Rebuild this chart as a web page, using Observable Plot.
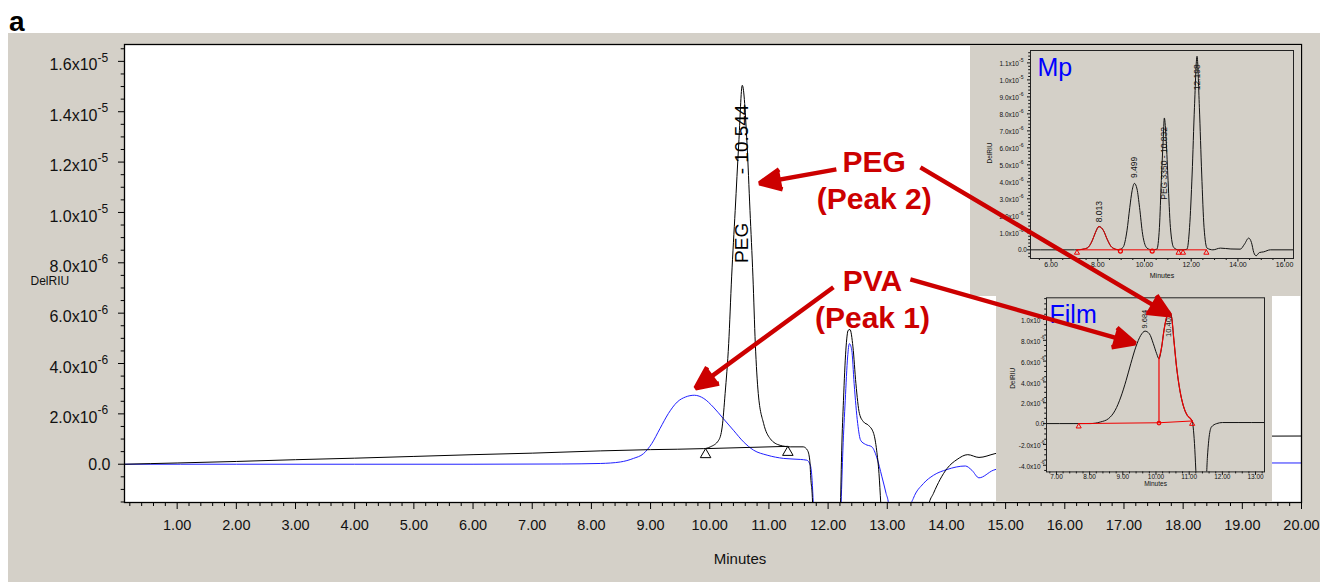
<!DOCTYPE html>
<html><head><meta charset="utf-8">
<script src="https://cdn.jsdelivr.net/npm/d3@7"></script>
<script src="https://cdn.jsdelivr.net/npm/@observablehq/plot@0.6"></script>
<style>
body{margin:0;background:#fff;font-family:"Liberation Sans",Arial,Helvetica,sans-serif;}
#fig{position:relative;width:1320px;height:582px;overflow:hidden;background:#fff;}
.abs{position:absolute;}
#lab{position:absolute;left:9px;top:8px;font-weight:bold;font-size:28px;line-height:1;}
svg{display:block;overflow:visible;}
</style></head><body>
<div id="fig">
 <div id="lab">a</div>
 <div class="abs" style="left:8px;top:33px;width:1312px;height:549px;background:#d4d0c8"></div>
 <div class="abs" id="main" style="left:8px;top:33px;"></div>
 <div class="abs" id="mp" style="left:970px;top:45px;width:331px;height:251px;background:#d4d0c8"></div>
 <div class="abs" id="film" style="left:996px;top:295px;width:276px;height:207px;background:#d4d0c8"></div>
 <div class="abs" id="over" style="left:8px;top:33px;"></div>
</div>
<script>
// ---------------- DATA (values in units of 1e-6 DelRIU, time in minutes) ----------------
const mainBlack = [[0.11,0],[1,0.05],[2,0.11],[3,0.18],[4,0.24],[5,0.31],[6,0.38],[7,0.44],[8.15,0.53],[9,0.58],[9.9,0.62],[10.01,0.69],[10.15,0.95],[10.21,1.48],[10.26,2.81],[10.32,4.79],[10.37,7.44],[10.43,10.08],[10.49,12.73],[10.55,15.05],[10.63,12.73],[10.68,10.08],[10.73,7.44],[10.77,4.79],[10.82,2.81],[10.91,1.62],[11.02,1.02],[11.19,0.75],[11.36,0.69],[11.58,0.69],[11.65,0.56],[11.69,0.16],[11.71,-0.64],[11.73,-1.15],[11.76,-3],[11.85,-6],[12.15,-6],[12.19,-3],[12.21,-1.56],[12.23,0.56],[12.26,2.54],[12.30,4.53],[12.34,5.32],[12.37,5.35],[12.42,4.66],[12.47,3.2],[12.53,2.01],[12.6,1.68],[12.68,1.55],[12.77,1.22],[12.82,0.56],[12.86,-0.37],[12.89,-1.56],[12.92,-3],[13.0,-6],[13.6,-6],[13.67,-3],[13.70,-1.63],[13.78,-1.16],[14.01,-0.17],[14.18,0.19],[14.36,0.38],[14.55,0.27],[14.82,0.42],[15.2,0.6],[16,0.85],[17,1.0],[18,1.08],[19,1.11],[20,1.12]];
const mainBlue = [[0.11,0],[2,0],[4,0],[6,0],[7.5,0.01],[8.15,0.03],[8.49,0.09],[8.71,0.23],[8.88,0.42],[9.02,0.82],[9.16,1.42],[9.30,2.01],[9.45,2.47],[9.59,2.67],[9.74,2.74],[9.90,2.61],[10.06,2.27],[10.23,1.81],[10.40,1.35],[10.57,0.89],[10.74,0.56],[10.97,0.36],[11.25,0.23],[11.53,0.19],[11.64,0.16],[11.70,-0.04],[11.73,-0.64],[11.75,-1.56],[11.78,-3],[11.9,-6],[12.15,-6],[12.2,-3],[12.22,-1.56],[12.25,0.56],[12.29,2.54],[12.33,4.26],[12.36,4.79],[12.40,4.53],[12.44,3.2],[12.50,1.62],[12.55,0.95],[12.63,0.79],[12.74,0.69],[12.82,0.29],[12.91,-0.5],[12.98,-1.16],[13.02,-1.56],[13.05,-3],[13.1,-6],[13.3,-6],[13.37,-3],[13.40,-1.63],[13.44,-1.36],[13.61,-0.77],[13.78,-0.44],[14.01,-0.21],[14.32,-0.07],[14.43,-0.24],[14.55,-0.54],[14.79,-0.24],[15.2,-0.05],[16,0.03],[17,0.05],[18,0.05],[19,0.05],[20,0.05]];
const mainBaseline = [[9.93,0.62],[11.32,0.71]];
const mainXTicks = [1,2,3,4,5,6,7,8,9,10,11,12,13,14,15,16,17,18,19,20];
const mainYTicks = [0,2,4,6,8,10,12,14,16];
const mainYMant = ["0.0","2.0x10","4.0x10","6.0x10","8.0x10","1.0x10","1.2x10","1.4x10","1.6x10"];
const mainYExp  = ["","-6","-6","-6","-6","-5","-5","-5","-5"];
const mainPeakText = [{t:"PEG", x:10.55, y:8.79},{t:"- 10.544", x:10.55, y:12.9}];

// Mp inset
const mpBlack = [[5.12,0],[6,0],[7,0],[7.11,0],[7.54,0.1],[7.76,0.53],[7.90,1.02],[8.05,1.37],[8.25,1.12],[8.40,0.63],[8.61,0.14],[8.9,0],[9.08,0.14],[9.25,1.12],[9.37,2.49],[9.47,3.48],[9.57,3.91],[9.68,3.58],[9.79,2.49],[9.92,0.92],[10.11,0.1],[10.32,0],[10.53,0.04],[10.64,1.32],[10.72,4.07],[10.80,6.42],[10.85,7.76],[10.93,6.42],[11.01,4.07],[11.11,1.32],[11.25,0.14],[11.45,0],[11.65,0],[11.82,0.04],[11.93,1.32],[12.04,4.46],[12.14,8.39],[12.25,11.39],[12.35,8.39],[12.45,4.46],[12.55,1.32],[12.68,0.1],[12.93,0],[13.25,0.1],[13.7,0.05],[14.1,0.04],[14.28,0.33],[14.46,0.69],[14.58,0.43],[14.68,-0.16],[14.78,-0.35],[14.92,-0.16],[15.1,-0.12],[15.39,0],[16.38,0]];
const mpRed = [[7.11,0],[7.54,0.1],[7.76,0.53],[7.90,1.02],[8.05,1.37],[8.25,1.12],[8.40,0.63],[8.61,0.14],[8.9,0]];
const mpRedBase = [[7.11,0],[12.65,0]];
const mpTriangles = [[7.11,0],[11.46,0],[11.65,0],[12.65,0]];
const mpCircles = [[8.97,0],[10.33,0]];
const mpPeakText = [{t:"8.013",x:8.05,y:2.25},{t:"9.499",x:9.57,y:4.85},{t:"PEG 3350 - 10.832",x:10.85,y:5.09},{t:"12.198",x:12.25,y:10.15}];
const mpXTicks = [6,8,10,12,14,16];
const mpYTicks = [0,1,2,3,4,5,6,7,8,9,10,11];
const mpYMant = ["0.0","1.0x10","2.0x10","3.0x10","4.0x10","5.0x10","6.0x10","7.0x10","8.0x10","9.0x10","1.0x10","1.1x10"];
const mpYExp  = ["","-6","-6","-6","-6","-6","-6","-6","-6","-6","-5","-5"];

// Film inset
const filmBlack = [[6.7,0],[7.5,0],[8.02,0],[8.32,0.15],[8.57,0.48],[8.77,1.28],[8.94,2.55],[9.1,4.15],[9.24,5.75],[9.39,7.34],[9.54,8.47],[9.67,8.88],[9.80,8.63],[9.92,7.67],[10.02,6.71],[10.09,6.23],[10.17,7.34],[10.24,8.95],[10.32,10.22],[10.39,10.8],[10.47,10.22],[10.54,7.99],[10.62,5.43],[10.72,3.19],[10.82,1.75],[10.94,0.8],[11.04,0.48],[11.09,0.25],[11.12,-0.33],[11.16,-1.92],[11.2,-4.48],[11.22,-6],[11.5,-6],[11.55,-3.2],[11.59,-1.6],[11.67,-0.33],[11.83,0],[12.0,0.1],[12.5,0.1],[13.27,0.1]];
const filmRed = [[10.09,6.23],[10.17,7.34],[10.24,8.95],[10.32,10.22],[10.39,10.8],[10.47,10.22],[10.54,7.99],[10.62,5.43],[10.72,3.19],[10.82,1.75],[10.94,0.8],[11.04,0.48],[11.09,0.25]];
const filmRedBase = [[7.67,0.0],[10.09,0.08],[11.09,0.25]];
const filmDrop = [[10.09,0.08],[10.09,6.23]];
const filmTriangles = [[7.67,0.0],[11.09,0.25]];
const filmCircles = [[10.09,0.05]];
const filmPeakText = [{t:"9.684",x:9.67,y:10.03},{t:"10.402",x:10.39,y:9.42}];
const filmXTicks = [7,8,9,10,11,12,13];
const filmYTicks = [-4,-2,0,2,4,6,8,10];
const filmYMant = ["-4.0x10","-2.0x10","0.0","2.0x10","4.0x10","6.0x10","8.0x10","1.0x10"];
const filmYExp  = ["-6","-6","","-6","-6","-6","-6","-5"];

// Annotations (main chart coordinates)
const annoText = [{t:"PEG",x:12.78,y:11.99},{t:"(Peak 2)",x:12.78,y:10.52},{t:"PVA",x:12.75,y:7.25},{t:"(Peak 1)",x:12.75,y:5.78}];
const annoArrows = [
  {x1:12.14,y1:11.71,x2:10.84,y2:11.16},
  {x1:12.09,y1:7.03,x2:9.76,y2:3.02},
  {x1:13.56,y1:11.79,x2:17.78,y2:5.92},
  {x1:13.39,y1:7.34,x2:17.19,y2:4.80}
];

// ---------------- RENDER ----------------
const FONT = '"Liberation Sans", Arial, Helvetica, sans-serif';
const X = d => d[0], Y = d => d[1];
function minor(a, b, step, majors) {
  return d3.range(Math.round(a/step), Math.round(b/step)+1).map(k => +(k*step).toFixed(3))
    .filter(v => !majors.some(m => Math.abs(m - v) < 1e-6));
}
function yLabelMarks(vals, mant, exps, o) {
  const rows = vals.map((v,i)=>({v, m:mant[i], e:exps[i]}));
  const withE = rows.filter(r=>r.e), noE = rows.filter(r=>!r.e);
  return [
    Plot.text(withE, {y:"v", text:"m", frameAnchor:"left", textAnchor:"end", dx:o.dxM, dy:o.dyM, fontSize:o.fs, fill:"#111"}),
    Plot.text(withE, {y:"v", text:"e", frameAnchor:"left", textAnchor:"start", dx:o.dxM, dy:o.dyE, fontSize:o.efs, fill:"#111"}),
    Plot.text(noE, {y:"v", text:"m", frameAnchor:"left", textAnchor:"end", dx:o.dxZ, dy:o.dyZ, fontSize:o.fs, fill:"#111"})
  ];
}
const blank = () => "";
const W = 1312, H = 549;
const M = {marginLeft:116, marginRight:19, marginTop:11, marginBottom:80};
const mainXDomain = [0.11, 20], mainYDomain = [-1.52, 16.67];

const mainPlot = Plot.plot({
  width: W, height: H, ...M,
  x: {domain: mainXDomain}, y: {domain: mainYDomain},
  style: {background: "transparent", fontFamily: FONT},
  marks: [
    Plot.frame({fill: "white", stroke: "none"}),
    Plot.line(mainBlue, {x: X, y: Y, stroke: "#2020ff", strokeWidth: 1, curve: "monotone-x", clip: true}),
    Plot.line(mainBlack, {x: X, y: Y, stroke: "#000", strokeWidth: 1, curve: "monotone-x", clip: true}),
    Plot.line(mainBaseline, {x: X, y: Y, stroke: "#000", strokeWidth: 1}),
    Plot.dot(mainBaseline, {x: X, y: Y, symbol: "triangle", r: 3.9, dy: 6, stroke: "#000", fill: "white", strokeWidth: 1}),
    Plot.text(mainPeakText, {x: "x", y: "y", text: "t", rotate: -90, fontSize: 19, fill: "#000"}),
    Plot.axisX({ticks: mainXTicks, tickSize: 7, tickFormat: blank, label: null, stroke: "#000"}),
    Plot.axisX({ticks: minor(0.2, 19.8, 0.2, mainXTicks), tickSize: 4, tickFormat: blank, label: null, stroke: "#000"}),
    Plot.axisY({ticks: mainYTicks, tickSize: 6, tickFormat: blank, label: null, stroke: "#000"}),
    Plot.axisY({ticks: minor(-1.5, 16.5, 0.5, mainYTicks), tickSize: 3.3, tickFormat: blank, label: null, stroke: "#000"}),
    Plot.text(mainXTicks, {x: d => d, frameAnchor: "bottom", dy: 27, text: d => d.toFixed(2), fontSize: 14.5, fill: "#111"}),
    ...yLabelMarks(mainYTicks, mainYMant, mainYExp, {dxM: -27, dyM: 4, dyE: -3.5, fs: 16, efs: 12, dxZ: -14, dyZ: 0.5}),
    Plot.text(["Minutes"], {frameAnchor: "bottom", dy: 61, dx: 27, fontSize: 15, fill: "#111"}),
    Plot.text(["DelRIU"], {frameAnchor: "left", dx: -94, dy: 8, fontSize: 12, fill: "#111"}),
    Plot.frame({stroke: "#000", strokeWidth: 1.3})
  ]
});
document.getElementById("main").appendChild(mainPlot);

// Mp inset
const mpPlot = Plot.plot({
  width: 331, height: 251, marginLeft: 60, marginRight: 8, marginTop: 5, marginBottom: 38,
  x: {domain: [5.12, 16.38]}, y: {domain: [-0.51, 11.73]},
  style: {background: "transparent", fontFamily: FONT},
  marks: [
    Plot.line(mpBlack, {x: X, y: Y, stroke: "#111", strokeWidth: 1, curve: "monotone-x", clip: true}),
    Plot.line(mpRedBase, {x: X, y: Y, stroke: "#f00000", strokeWidth: 1}),
    Plot.line(mpRed, {x: X, y: Y, stroke: "#f00000", strokeWidth: 1, curve: "monotone-x"}),
    Plot.dot(mpTriangles, {x: X, y: Y, symbol: "triangle", r: 1.9, dy: 2.9, stroke: "#f00000", fill: "none", strokeWidth: 1}),
    Plot.dot(mpCircles, {x: X, y: Y, symbol: "circle", r: 2, dy: 1.2, stroke: "#f00000", fill: "none", strokeWidth: 1.2}),
    Plot.text(mpPeakText, {x: "x", y: "y", text: "t", rotate: -90, fontSize: 8.5, fill: "#111"}),
    Plot.axisX({ticks: mpXTicks, tickSize: 3.5, tickFormat: blank, label: null, stroke: "#111"}),
    Plot.axisX({ticks: minor(5.5, 16, 0.5, mpXTicks), tickSize: 2, tickFormat: blank, label: null, stroke: "#111"}),
    Plot.axisY({ticks: mpYTicks, tickSize: 3, tickFormat: blank, label: null, stroke: "#111"}),
    Plot.axisY({ticks: minor(-0.4, 11.6, 0.2, mpYTicks), tickSize: 1.8, tickFormat: blank, label: null, stroke: "#111"}),
    Plot.text(mpXTicks, {x: d => d, frameAnchor: "bottom", dy: 8.5, text: d => d.toFixed(2), fontSize: 7, fill: "#111"}),
    ...yLabelMarks(mpYTicks, mpYMant, mpYExp, {dxM: -11.5, dyM: 1.5, dyE: -2.5, fs: 6.5, efs: 5, dxZ: -3.5, dyZ: 0}),
    Plot.text(["Minutes"], {frameAnchor: "bottom", dy: 19.5, fontSize: 7, fill: "#111"}),
    Plot.text(["DelRIU"], {frameAnchor: "left", dx: -41, dy: 9, rotate: -90, fontSize: 6.5, fill: "#111"}),
    Plot.text(["Mp"], {frameAnchor: "top-left", dx: 7, dy: 8, textAnchor: "start", lineAnchor: "top", fontSize: 25, fill: "#0000ff"}),
    Plot.frame({stroke: "#222", strokeWidth: 1})
  ]
});
document.getElementById("mp").appendChild(mpPlot);

// Film inset
const filmPlot = Plot.plot({
  width: 276, height: 207, marginLeft: 50, marginRight: 8, marginTop: 2.3, marginBottom: 30.6,
  x: {domain: [6.7, 13.27]}, y: {domain: [-4.64, 12.08]},
  style: {background: "transparent", fontFamily: FONT},
  marks: [
    Plot.line(filmBlack, {x: X, y: Y, stroke: "#111", strokeWidth: 1, curve: "monotone-x", clip: true}),
    Plot.line(filmRedBase, {x: X, y: Y, stroke: "#f00000", strokeWidth: 1}),
    Plot.line(filmDrop, {x: X, y: Y, stroke: "#f00000", strokeWidth: 1.2}),
    Plot.line(filmRed, {x: X, y: Y, stroke: "#f00000", strokeWidth: 1.2, curve: "monotone-x"}),
    Plot.dot(filmTriangles, {x: X, y: Y, symbol: "triangle", r: 1.9, dy: 2.9, stroke: "#f00000", fill: "none", strokeWidth: 1}),
    Plot.dot(filmCircles, {x: X, y: Y, symbol: "circle", r: 1.8, stroke: "#f00000", fill: "none", strokeWidth: 1.2}),
    Plot.text(filmPeakText, {x: "x", y: "y", text: "t", rotate: -90, fontSize: 7.5, fill: "#111"}),
    Plot.axisX({ticks: filmXTicks, tickSize: 3.5, tickFormat: blank, label: null, stroke: "#111"}),
    Plot.axisX({ticks: minor(6.8, 13.2, 0.2, filmXTicks), tickSize: 2, tickFormat: blank, label: null, stroke: "#111"}),
    Plot.axisY({ticks: filmYTicks, tickSize: 3, tickFormat: blank, label: null, stroke: "#111"}),
    Plot.axisY({ticks: minor(-4.5, 12, 0.5, filmYTicks), tickSize: 1.8, tickFormat: blank, label: null, stroke: "#111"}),
    Plot.text(filmXTicks, {x: d => d, frameAnchor: "bottom", dy: 6.8, text: d => d.toFixed(2), fontSize: 6.5, fill: "#111"}),
    ...yLabelMarks(filmYTicks, filmYMant, filmYExp, {dxM: -6, dyM: 1.5, dyE: -2.3, fs: 6.5, efs: 4.5, dxZ: -2, dyZ: 0}),
    Plot.text(["Minutes"], {frameAnchor: "bottom", dy: 14, fontSize: 6.5, fill: "#111"}),
    Plot.text(["DelRIU"], {frameAnchor: "left", dx: -34, dy: 4, rotate: -90, fontSize: 6.5, fill: "#111"}),
    Plot.text(["Film"], {frameAnchor: "top-left", dx: 3, dy: 7.7, textAnchor: "start", lineAnchor: "top", fontSize: 25, fill: "#0000ff"}),
    Plot.frame({stroke: "#222", strokeWidth: 1})
  ]
});
document.getElementById("film").appendChild(filmPlot);

// Overlay: annotations drawn in the main chart's coordinates
const overPlot = Plot.plot({
  width: W, height: H, ...M,
  x: {domain: mainXDomain, axis: null}, y: {domain: mainYDomain, axis: null},
  style: {background: "transparent", fontFamily: FONT, overflow: "visible"},
  marks: [
    Plot.arrow(annoArrows, {x1: "x1", y1: "y1", x2: "x2", y2: "y2", stroke: "#cc0000", fill: "#cc0000",
      strokeWidth: 4.5, headLength: 8, headAngle: 50, strokeLinecap: "butt"}),
    Plot.text(annoText, {x: "x", y: "y", text: "t", fontSize: 30, fontWeight: "bold", fill: "#cc0000"})
  ]
});
document.getElementById("over").appendChild(overPlot);
</script>
</body></html>
